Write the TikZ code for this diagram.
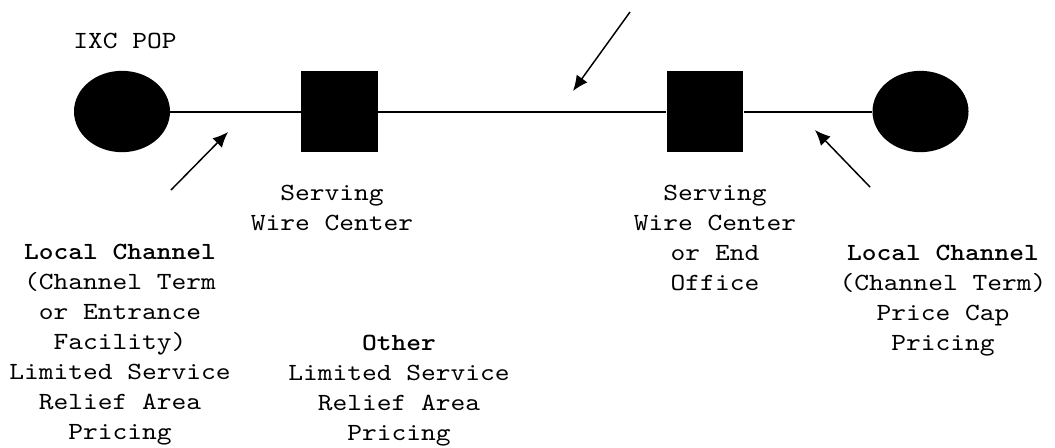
\documentclass[tikz,border=0pt]{standalone}
\usepackage{fontspec}
\setmonofont{lmmono10-regular.otf}[FakeStretch=1.14,BoldFont=lmmonolt10-bold.otf]
\usetikzlibrary{shapes.geometric,arrows.meta}
\tikzset{
  site/.style={ellipse,fill=black,minimum width=72pt,minimum height=61pt,inner sep=0pt},
  office/.style={rectangle,fill=black,minimum width=57.5pt,minimum height=61pt,inner sep=0pt},
  lbl/.style={font=\ttfamily\fontsize{18.5}{22.5}\selectfont,align=center,anchor=north,inner sep=0pt},
  ptr/.style={line width=1.1pt,-{Latex[length=11.5pt,width=10pt]}}
}
\begin{document}
\begin{tikzpicture}[x=0.75pt,y=-0.75pt]
        \useasboundingbox (0,0) rectangle (1055,447);
        \node[site] (popA) at (122,111.5) {};
        \node[office] (swcA) at (339.5,111.5) {};
        \node[office] (swcB) at (705,111.5) {};
        \node[site] (popB) at (920.5,111.5) {};
        \draw[line width=1.5pt] (popA)--(swcA)--(swcB)--(popB);
        \coordinate (tailA) at (171,190);
        \coordinate (tipA) at (228,132);
        \coordinate (tailB) at (630,12);
        \coordinate (tipB) at (573,91);
        \coordinate (tailC) at (870,187);
        \coordinate (tipC) at (815,130);
        \draw[ptr] (tailA)--(tipA);
        \draw[ptr] (tailB)--(tipB);
        \draw[ptr] (tailC)--(tipC);
        \node[lbl] (ixc) at (125,33) {IXC POP};
        \node[lbl] (wcA) at (332,185) {Serving\\Wire Center};
        \node[lbl] (wcB) at (715,185) {Serving\\Wire Center\\or End\\Office};
        \node[lbl] (lcA) at (120,244) {\textbf{Local Channel}\\(Channel Term\\or Entrance\\Facility)\\Limited Service\\Relief Area\\Pricing};
        \node[lbl] (other) at (399,335) {\textbf{Other}\\Limited Service\\Relief Area\\Pricing};
        \node[lbl] (lcB) at (943,245) {\textbf{Local Channel}\\(Channel Term)\\Price Cap\\Pricing};
\end{tikzpicture}
\end{document}
